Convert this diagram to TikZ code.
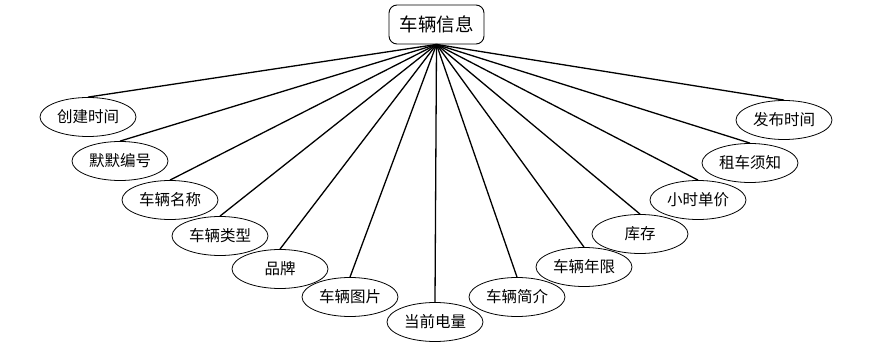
\documentclass[tikz,border=0pt]{standalone}
\usepackage{fontspec}
\setmainfont{Noto Sans CJK SC}
\usepackage{tikz}
\usetikzlibrary{shapes.geometric,positioning}

\begin{document}
\begin{tikzpicture}[
    x=1pt, y=-1pt,
    entity/.style={rectangle, draw, rounded corners=8pt, line width=0.9pt, minimum width=95pt, minimum height=39pt, inner sep=0pt, font=\fontsize{18.5}{20}\selectfont},
    attr/.style={ellipse, draw, line width=0.8pt, minimum width=96pt, minimum height=39pt, inner sep=0pt, font=\fontsize{15.5}{18}\selectfont},
    edge/.style={line width=1.3pt}
]
    \useasboundingbox (0,0) rectangle (875,355);

    \node[entity] (info) at (436.5,24.5) {车辆信息};

    % left side
    \node[attr] (createtime) at (88,117) {创建时间};
    \node[attr] (code) at (120,161) {默默编号};
    \node[attr] (name) at (170,200) {车辆名称};
    \node[attr] (type) at (220,236) {车辆类型};
    \node[attr] (brand) at (280,269) {品牌};
    \node[attr] (image) at (350,297) {车辆图片};
    \node[attr] (power) at (435,322) {当前电量};

    % right side
    \node[attr] (intro) at (517,297) {车辆简介};
    \node[attr] (years) at (584,267) {车辆年限};
    \node[attr] (stock) at (640,234) {库存};
    \node[attr] (price) at (698,200) {小时单价};
    \node[attr] (notice) at (750,163) {租车须知};
    \node[attr] (pubtime) at (784,120) {发布时间};

    \draw[edge] (info.south) -- (createtime.north);
    \draw[edge] (info.south) -- (code.north);
    \draw[edge] (info.south) -- (name.north);
    \draw[edge] (info.south) -- (type.north);
    \draw[edge] (info.south) -- (brand.north);
    \draw[edge] (info.south) -- (image.north);
    \draw[edge] (info.south) -- (power.north);
    \draw[edge] (info.south) -- (intro.north);
    \draw[edge] (info.south) -- (years.north);
    \draw[edge] (info.south) -- (stock.north);
    \draw[edge] (info.south) -- (price.north);
    \draw[edge] (info.south) -- (notice.north);
    \draw[edge] (info.south) -- (pubtime.north);
\end{tikzpicture}
\end{document}
